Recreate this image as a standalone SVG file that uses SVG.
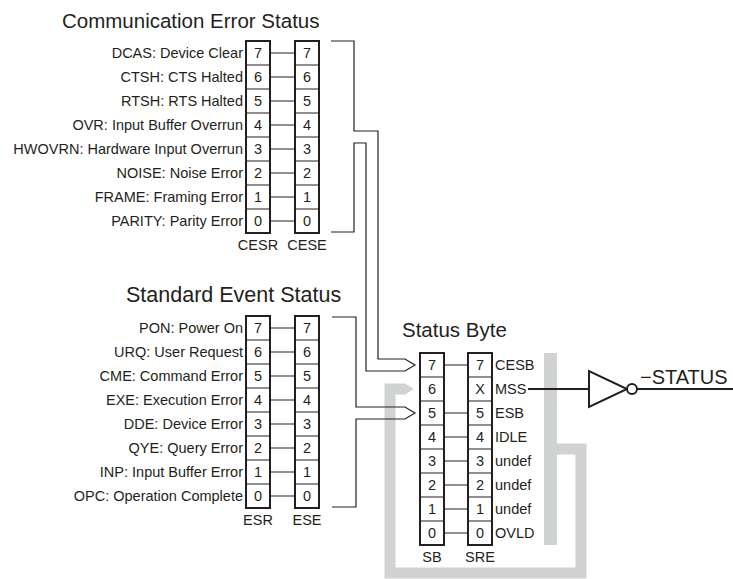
<svg xmlns="http://www.w3.org/2000/svg" width="733" height="579" viewBox="0 0 733 579">
<style>
.t{font-family:"Liberation Sans",Arial,sans-serif;fill:#231f20}
.lbl{font-size:14.5px;text-anchor:end}
.num{font-size:14.5px;text-anchor:middle}
.sre{font-size:14.5px}
.ttl{font-size:20.5px}
.box{fill:#fff;stroke:#231f20;stroke-width:2}
.div{stroke:#231f20;stroke-width:1}
.ln{fill:none;stroke:#231f20;stroke-width:1.2}
.gray{fill:none;stroke:#d1d2d4;stroke-width:11}
.wire{fill:none;stroke:#231f20;stroke-width:2}
</style>
<rect width="733" height="579" fill="#fff"/>

<g id="titles">
<text class="t ttl" x="62" y="28">Communication Error Status</text>
<text class="t ttl" x="126" y="302" style="font-size:21.5px">Standard Event Status</text>
<text class="t ttl" x="402" y="337">Status Byte</text>
</g>

<g id="feedback-loop">
<rect x="544" y="353" width="13" height="192" fill="#d1d2d4"/>
<path class="gray" d="M557,449 H581 V573 H390 V389 H406"/>
<polygon points="405,383.5 414,389 405,394.5" fill="#d1d2d4"/>
</g>

<g id="CESR">
<g class="t lbl">
<text x="243" y="58">DCAS: Device Clear</text>
<text x="243" y="82">CTSH: CTS Halted</text>
<text x="243" y="106">RTSH: RTS Halted</text>
<text x="243" y="130">OVR: Input Buffer Overrun</text>
<text x="243" y="154">HWOVRN: Hardware Input Overrun</text>
<text x="243" y="178">NOISE: Noise Error</text>
<text x="243" y="202">FRAME: Framing Error</text>
<text x="243" y="226">PARITY: Parity Error</text>
</g>
<rect class="box" x="246" y="41" width="24" height="192"/>
<path class="div" d="M246,65H270M246,89H270M246,113H270M246,137H270M246,161H270M246,185H270M246,209H270"/>
<g class="t num">
<text x="258" y="58">7</text><text x="258" y="82">6</text><text x="258" y="106">5</text><text x="258" y="130">4</text>
<text x="258" y="154">3</text><text x="258" y="178">2</text><text x="258" y="202">1</text><text x="258" y="226">0</text>
<text x="258" y="250">CESR</text>
</g>
</g>

<g id="CESE">
<rect class="box" x="295" y="41" width="24" height="192"/>
<path class="div" d="M295,65H319M295,89H319M295,113H319M295,137H319M295,161H319M295,185H319M295,209H319"/>
<g class="t num">
<text x="307" y="58">7</text><text x="307" y="82">6</text><text x="307" y="106">5</text><text x="307" y="130">4</text>
<text x="307" y="154">3</text><text x="307" y="178">2</text><text x="307" y="202">1</text><text x="307" y="226">0</text>
<text x="307" y="250">CESE</text>
</g>
</g>

<g id="ESR">
<g class="t lbl">
<text x="243" y="333">PON: Power On</text>
<text x="243" y="357">URQ: User Request</text>
<text x="243" y="381">CME: Command Error</text>
<text x="243" y="405">EXE: Execution Error</text>
<text x="243" y="429">DDE: Device Error</text>
<text x="243" y="453">QYE: Query Error</text>
<text x="243" y="477">INP: Input Buffer Error</text>
<text x="243" y="501">OPC: Operation Complete</text>
</g>
<rect class="box" x="246" y="316" width="24" height="192"/>
<path class="div" d="M246,340H270M246,364H270M246,388H270M246,412H270M246,436H270M246,460H270M246,484H270"/>
<g class="t num">
<text x="258" y="333">7</text><text x="258" y="357">6</text><text x="258" y="381">5</text><text x="258" y="405">4</text>
<text x="258" y="429">3</text><text x="258" y="453">2</text><text x="258" y="477">1</text><text x="258" y="501">0</text>
<text x="258" y="525">ESR</text>
</g>
</g>

<g id="ESE">
<rect class="box" x="295" y="316" width="24" height="192"/>
<path class="div" d="M295,340H319M295,364H319M295,388H319M295,412H319M295,436H319M295,460H319M295,484H319"/>
<g class="t num">
<text x="307" y="333">7</text><text x="307" y="357">6</text><text x="307" y="381">5</text><text x="307" y="405">4</text>
<text x="307" y="429">3</text><text x="307" y="453">2</text><text x="307" y="477">1</text><text x="307" y="501">0</text>
<text x="307" y="525">ESE</text>
</g>
</g>

<g id="SB">
<rect class="box" x="420" y="353" width="24" height="192"/>
<path class="div" d="M420,377H444M420,401H444M420,425H444M420,449H444M420,473H444M420,497H444M420,521H444"/>
<g class="t num">
<text x="432" y="370">7</text><text x="432" y="394">6</text><text x="432" y="418">5</text><text x="432" y="442">4</text>
<text x="432" y="466">3</text><text x="432" y="490">2</text><text x="432" y="514">1</text><text x="432" y="538">0</text>
<text x="432" y="562">SB</text>
</g>
</g>

<g id="SRE">
<rect class="box" x="468" y="353" width="24" height="192"/>
<path class="div" d="M468,377H492M468,401H492M468,425H492M468,449H492M468,473H492M468,497H492M468,521H492"/>
<g class="t num">
<text x="480" y="370">7</text><text x="480" y="394">X</text><text x="480" y="418">5</text><text x="480" y="442">4</text>
<text x="480" y="466">3</text><text x="480" y="490">2</text><text x="480" y="514">1</text><text x="480" y="538">0</text>
<text x="480" y="562">SRE</text>
</g>
<g class="t sre">
<text x="495" y="370">CESB</text><text x="495" y="394">MSS</text><text x="495" y="418">ESB</text><text x="495" y="442">IDLE</text>
<text x="495" y="466">undef</text><text x="495" y="490">undef</text><text x="495" y="514">undef</text><text x="495" y="538">OVLD</text>
</g>
</g>

<g id="inverter">
<polygon points="589,371 589,407 627,389" fill="#fff" stroke="#231f20" stroke-width="2" stroke-linejoin="miter"/>
<circle cx="632" cy="389" r="5" fill="#fff" stroke="#231f20" stroke-width="2"/>
<text class="t" x="640" y="383.5" font-size="20">−STATUS</text>
</g>

<g id="connectors">
<path class="ln" d="M270,53H295M270,77H295M270,101H295M270,125H295M270,149H295M270,173H295M270,197H295M270,221H295"/>
<path class="ln" d="M270,328H295M270,352H295M270,376H295M270,400H295M270,424H295M270,448H295M270,472H295M270,496H295"/>
<path class="ln" d="M444,365H468M444,413H468M444,437H468M444,461H468M444,485H468M444,509H468M444,533H468"/>
<path class="ln" d="M331,41H354V131H378V359H405L415,365L405,371H366V143H354V232H331"/>
<path class="ln" d="M332,317H356V407H405L415,413L405,419H356V507H332"/>
<path class="wire" d="M528,389H589"/>
<path class="wire" d="M637,389H733"/>
</g>
</svg>
